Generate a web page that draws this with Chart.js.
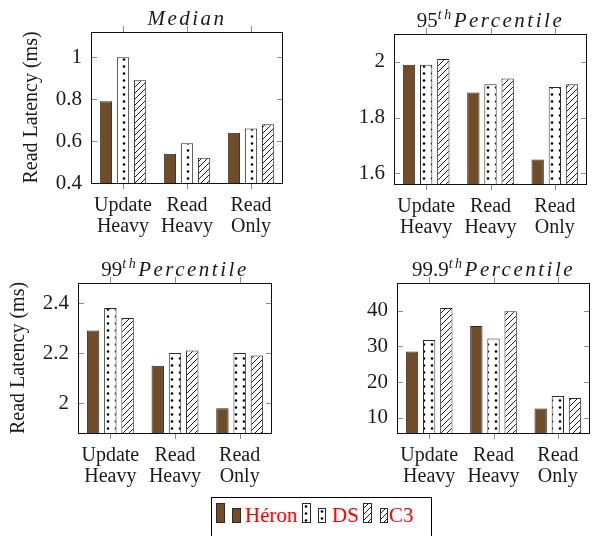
<!DOCTYPE html>
<html>
<head>
<meta charset="utf-8">
<script src="https://cdn.jsdelivr.net/npm/chart.js@4.4.1/dist/chart.umd.min.js"></script>
<style>
  body { margin: 0; background: #fff; width: 600px; height: 536px; position: relative; overflow: hidden; font-family: "Liberation Serif", "DejaVu Serif", serif; }
  canvas.panel { position: absolute; }
  #legend { position: absolute; left: 211px; top: 497px; width: 219px; height: 44px; border: 1px solid #000; background: #fff; }
  #legend canvas { position: absolute; }
  #legend span { position: absolute; color: #f00; font-family: "Liberation Serif", "DejaVu Serif", serif; font-size: 21px; line-height: 21px; white-space: nowrap; }
</style>
</head>
<body>
<canvas id="c1" class="panel" width="300" height="250" style="left:0;top:0"></canvas>
<canvas id="c2" class="panel" width="300" height="250" style="left:300px;top:0"></canvas>
<canvas id="c3" class="panel" width="300" height="250" style="left:0;top:250px"></canvas>
<canvas id="c4" class="panel" width="300" height="250" style="left:300px;top:250px"></canvas>

<div id="legend">
  <canvas id="s1a" width="9" height="20" style="left:4px;top:5px"></canvas>
  <canvas id="s1b" width="9" height="15" style="left:20px;top:10px"></canvas>
  <span id="t1" style="left:33px;top:7px"></span>
  <canvas id="s2a" width="9" height="20" style="left:90px;top:5px"></canvas>
  <canvas id="s2b" width="8" height="15" style="left:106px;top:10px"></canvas>
  <span id="t2" style="left:120px;top:7px"></span>
  <canvas id="s3a" width="9" height="20" style="left:151px;top:5px"></canvas>
  <canvas id="s3b" width="8" height="15" style="left:168px;top:10px"></canvas>
  <span id="t3" style="left:177px;top:7px"></span>
</div>

<script>
// data
var categories = [['Update', 'Heavy'], ['Read', 'Heavy'], ['Read', 'Only']];
var seriesNames = ['Héron', 'DS', 'C3'];

var medianHeron = [0.79, 0.54, 0.64];
var medianDS    = [1.00, 0.59, 0.66];
var medianC3    = [0.89, 0.52, 0.68];

var p95Heron = [1.99, 1.89, 1.65];
var p95DS    = [1.99, 1.92, 1.91];
var p95C3    = [2.01, 1.94, 1.92];

var p99Heron = [2.29, 2.15, 1.98];
var p99DS    = [2.38, 2.20, 2.20];
var p99C3    = [2.34, 2.21, 2.19];

var p999Heron = [28.6, 35.7, 12.6];
var p999DS    = [31.8, 32.2, 16.1];
var p999C3    = [40.8, 39.9, 15.5];

var medianTicks = [0.4, 0.6, 0.8, 1];
var p95Ticks    = [1.6, 1.8, 2];
var p99Ticks    = [2, 2.2, 2.4];
var p999Ticks   = [10, 20, 30, 40];

var FONT = '"Liberation Serif", "DejaVu Serif", serif';
var INK = '#1a1a1a';
var BROWN = 'rgb(112,76,40)';

function dotsPattern() {
  var c = document.createElement('canvas');
  c.width = 8; c.height = 7;
  var g = c.getContext('2d');
  g.fillStyle = '#fff'; g.fillRect(0, 0, 8, 7);
  g.fillStyle = '#000';
  g.beginPath(); g.arc(4, 3.5, 1.3, 0, Math.PI * 2); g.fill();
  return g.createPattern(c, 'repeat');
}

function hatchPattern() {
  var s = 6;
  var c = document.createElement('canvas');
  c.width = s; c.height = s;
  var g = c.getContext('2d');
  g.fillStyle = '#fff'; g.fillRect(0, 0, s, s);
  g.strokeStyle = '#000'; g.lineWidth = 0.9;
  g.beginPath();
  g.moveTo(0, s); g.lineTo(s, 0);
  g.moveTo(-1, 1); g.lineTo(1, -1);
  g.moveTo(s - 1, s + 1); g.lineTo(s + 1, s - 1);
  g.stroke();
  return g.createPattern(c, 'repeat');
}

var fills = [BROWN, dotsPattern(), hatchPattern()];

// frame, inward y ticks, outward x ticks and the math-style title
var panelDeco = {
  id: 'panelDeco',
  afterDatasetsDraw: function (chart, args, opts) {
    var ctx = chart.ctx, a = chart.chartArea, sx = chart.scales.x, sy = chart.scales.y;
    ctx.save();
    ctx.strokeStyle = '#8c8c8c';
    ctx.lineWidth = 1;
    ctx.beginPath();
    sy.ticks.forEach(function (t) {
      var y = Math.round(sy.getPixelForValue(t.value)) + 0.5;
      ctx.moveTo(a.left, y); ctx.lineTo(a.left + 6, y);
      ctx.moveTo(a.right - 6, y); ctx.lineTo(a.right, y);
    });
    sx.ticks.forEach(function (t, i) {
      var x = Math.round(sx.getPixelForTick(i)) + 0.5;
      ctx.moveTo(x, a.top - 6); ctx.lineTo(x, a.top);
      ctx.moveTo(x, a.bottom); ctx.lineTo(x, a.bottom + 6);
    });
    ctx.stroke();

    ctx.strokeStyle = '#111';
    ctx.strokeRect(Math.round(a.left) + 0.5, Math.round(a.top) + 0.5,
                   Math.round(a.right - a.left) - 1, Math.round(a.bottom - a.top));

    // title pieces
    var parts = opts.parts || [];
    ctx.fillStyle = INK;
    ctx.textBaseline = 'alphabetic';
    ctx.textAlign = 'left';
    var widths = parts.map(function (p) {
      ctx.font = (p.italic ? 'italic ' : '') + (p.sup ? 14 : 21) + 'px ' + FONT;
      ctx.letterSpacing = p.italic ? '2.5px' : '0px';
      return ctx.measureText(p.text).width;
    });
    var total = widths.reduce(function (s, w) { return s + w; }, 0);
    var x = (a.left + a.right) / 2 - total / 2;
    var base = a.top - 7;
    parts.forEach(function (p, i) {
      ctx.font = (p.italic ? 'italic ' : '') + (p.sup ? 14 : 21) + 'px ' + FONT;
      ctx.letterSpacing = p.italic ? '2.5px' : '0px';
      ctx.fillText(p.text, x, p.sup ? base - 8 : base);
      x += widths[i];
    });
    ctx.restore();
  }
};

function makePanel(id, titleParts, heron, ds, c3, yTicks, yMin, yMax, box, yTitle, yTitlePad) {
  var el = document.getElementById(id);
  var W = el.width, H = el.height;
  var values = [heron, ds, c3];
  new Chart(el.getContext('2d'), {
    type: 'bar',
    data: {
      labels: categories,
      datasets: seriesNames.map(function (name, k) {
        return {
          label: name,
          data: values[k],
          backgroundColor: fills[k],
          borderColor: '#2a2a2a',
          borderWidth: 1,
          categoryPercentage: 0.8,
          barPercentage: 0.72
        };
      })
    },
    options: {
      responsive: false,
      animation: false,
      layout: { padding: { left: 0, top: box.top, right: W - box.right, bottom: 0 } },
      plugins: {
        legend: { display: false },
        tooltip: { enabled: false },
        panelDeco: { parts: titleParts }
      },
      scales: {
        x: {
          grid: { display: false, drawTicks: false },
          border: { display: false },
          ticks: {
            autoSkip: false, maxRotation: 0, padding: 12, color: INK,
            font: { family: FONT, size: 20, lineHeight: 1.05 }
          },
          afterFit: function (s) { s.height = H - box.bottom; }
        },
        y: {
          min: yMin, max: yMax,
          grid: { display: false, drawTicks: false },
          border: { display: false },
          afterBuildTicks: function (s) { s.ticks = yTicks.map(function (v) { return { value: v }; }); },
          ticks: {
            padding: 9, color: INK,
            font: { family: FONT, size: 21 },
            callback: function (v) { return String(v); }
          },
          title: {
            display: !!yTitle, text: yTitle || '', color: INK,
            font: { family: FONT, size: 20 },
            padding: { top: yTitlePad || 0, bottom: 0 }
          },
          afterFit: function (s) { s.width = box.left; }
        }
      }
    },
    plugins: [panelDeco]
  });
}

makePanel('c1', [{ text: 'Median', italic: true }],
  medianHeron, medianDS, medianC3, medianTicks, 0.4, 1.12,
  { left: 91, top: 32, right: 283, bottom: 183 }, 'Read Latency (ms)', 20);

makePanel('c2', [{ text: '95' }, { text: 'th', italic: true, sup: true }, { text: 'Percentile', italic: true }],
  p95Heron, p95DS, p95C3, p95Ticks, 1.562, 2.1,
  { left: 94, top: 34, right: 287, bottom: 184 }, null, 0);

makePanel('c3', [{ text: '99' }, { text: 'th', italic: true, sup: true }, { text: 'Percentile', italic: true }],
  p99Heron, p99DS, p99C3, p99Ticks, 1.881, 2.48,
  { left: 78, top: 33, right: 272, bottom: 183 }, 'Read Latency (ms)', 7);

makePanel('c4', [{ text: '99.9' }, { text: 'th', italic: true, sup: true }, { text: 'Percentile', italic: true }],
  p999Heron, p999DS, p999C3, p999Ticks, 5.7, 47.8,
  { left: 97, top: 33, right: 290, bottom: 183 }, null, 0);

// legend
function swatch(id, fill) {
  var c = document.getElementById(id), g = c.getContext('2d');
  g.fillStyle = fill; g.fillRect(0, 0, c.width, c.height);
  g.strokeStyle = '#2a2a2a'; g.lineWidth = 1;
  g.strokeRect(0.5, 0.5, c.width - 1, c.height - 1);
}
['1', '2', '3'].forEach(function (n, k) {
  swatch('s' + n + 'a', fills[k]);
  swatch('s' + n + 'b', fills[k]);
  document.getElementById('t' + n).textContent = seriesNames[k];
});
</script>
</body>
</html>
